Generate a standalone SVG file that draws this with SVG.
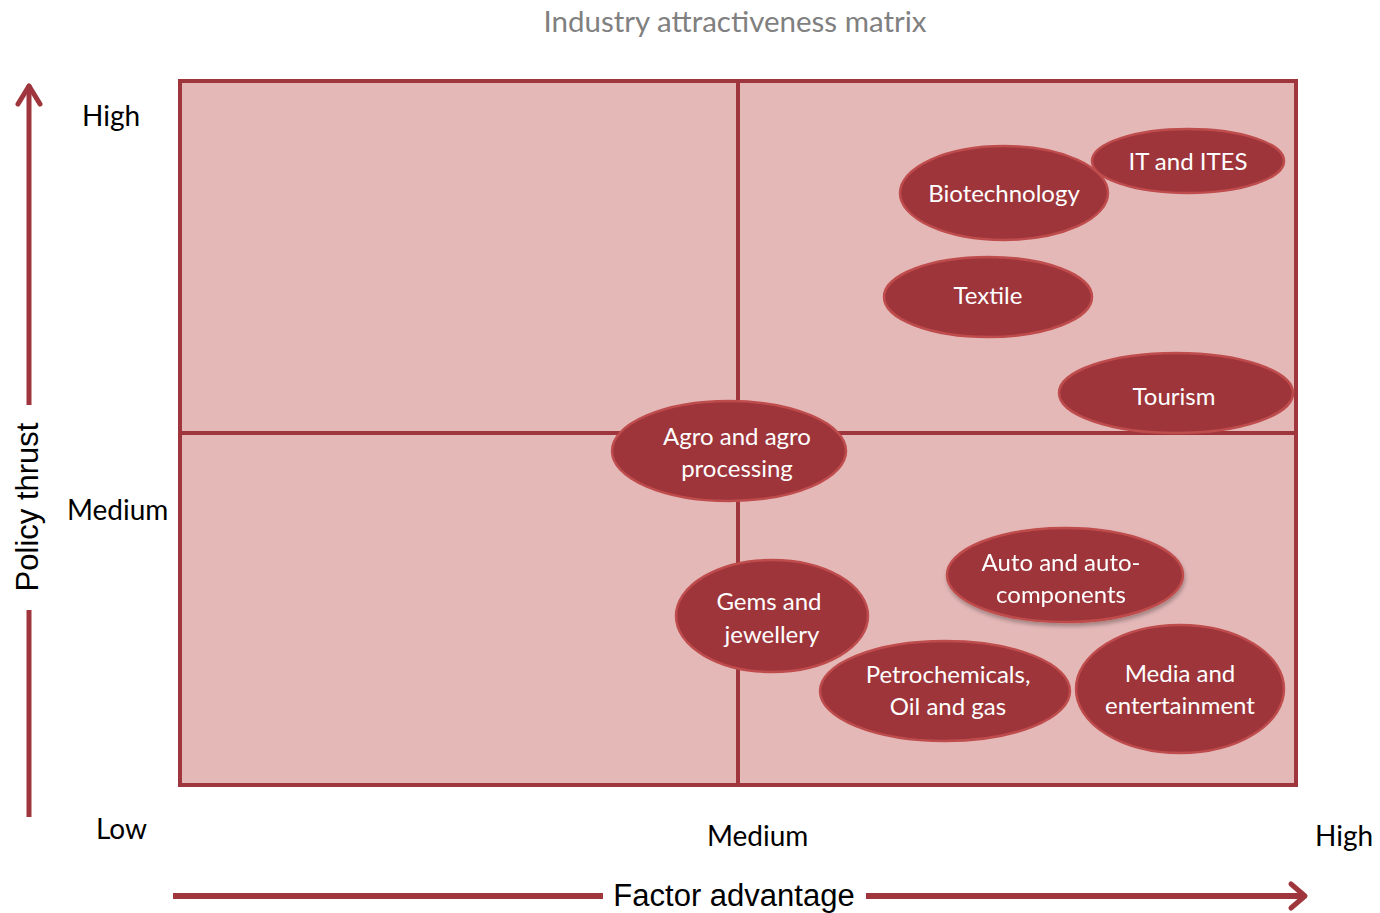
<svg xmlns="http://www.w3.org/2000/svg" width="1380" height="913" viewBox="0 0 1380 913">
<style>
.title{font-family:Lato,"Liberation Sans",sans-serif;font-size:29.5px;fill:#808080;text-anchor:middle}
.ax{font-family:Lato,"Liberation Sans",sans-serif;font-size:28px;fill:#000}
.axt{font-family:"Liberation Sans",Arial,sans-serif;font-size:31px;fill:#000;text-anchor:middle}
.el{fill:#9e353b;stroke:#bf4c4c;stroke-width:2.5}
.lb{font-family:Lato,"Liberation Sans",sans-serif;font-size:24px;fill:#fff;text-anchor:middle}
.ln{stroke:#a0363d;fill:none}
</style>
<defs>
<filter id="sh" x="-20%" y="-20%" width="140%" height="150%">
<feDropShadow dx="1" dy="3" stdDeviation="2" flood-color="#000" flood-opacity="0.3"/>
</filter>
</defs>
<text class="title" x="735" y="32">Industry attractiveness matrix</text>
<g id="matrix">
<rect x="180" y="81" width="1116" height="704" fill="#e5b8b8" stroke="#a0363d" stroke-width="4"/>
<line class="ln" x1="738" y1="81" x2="738" y2="785" stroke-width="4"/>
<line class="ln" x1="180" y1="433" x2="1296" y2="433" stroke-width="4"/>
</g>
<g id="axes">
<polyline class="ln" points="29,405 29,85" stroke-width="5"/>
<polyline class="ln" points="18,104 29,86 40,104" stroke-width="5" stroke-linecap="round" stroke-linejoin="round"/>
<line class="ln" x1="29" y1="610" x2="29" y2="817" stroke-width="5"/>
<line class="ln" x1="173" y1="896" x2="603" y2="896" stroke-width="6"/>
<line class="ln" x1="866" y1="896" x2="1304" y2="896" stroke-width="6"/>
<polyline class="ln" points="1291,884 1305,896 1291,908" stroke-width="5" stroke-linecap="round" stroke-linejoin="round"/>
<text class="axt" transform="translate(38,507) rotate(-90)">Policy thrust</text>
<text class="axt" x="734" y="906">Factor advantage</text>
<text class="ax" x="82" y="126">High</text>
<text class="ax" x="67" y="520">Medium</text>
<text class="ax" x="96" y="839">Low</text>
<text class="ax" x="707" y="846">Medium</text>
<text class="ax" x="1315" y="846">High</text>
</g>
<g id="n-biotech"><ellipse class="el" cx="1004" cy="193" rx="104" ry="47"/><text class="lb" x="1004" y="202">Biotechnology</text></g>
<g id="n-it"><ellipse class="el" cx="1188" cy="161" rx="96" ry="32"/><text class="lb" x="1188" y="170">IT and ITES</text></g>
<g id="n-textile"><ellipse class="el" cx="988" cy="297" rx="104" ry="40"/><text class="lb" x="988" y="304">Textile</text></g>
<g id="n-tourism"><ellipse class="el" cx="1176" cy="393" rx="117" ry="40"/><text class="lb" x="1174" y="405">Tourism</text></g>
<g id="n-agro"><ellipse class="el" cx="729" cy="451" rx="117" ry="50"/><text class="lb" x="737" y="445">Agro and agro</text><text class="lb" x="737" y="477">processing</text></g>
<g id="n-gems"><ellipse class="el" cx="772" cy="616" rx="96" ry="56"/><text class="lb" x="769" y="610">Gems and</text><text class="lb" x="772" y="643">jewellery</text></g>
<g id="n-auto" filter="url(#sh)"><ellipse class="el" cx="1065" cy="575" rx="118" ry="47"/><text class="lb" x="1061" y="571">Auto and auto-</text><text class="lb" x="1061" y="603">components</text></g>
<g id="n-petro"><ellipse class="el" cx="945" cy="691" rx="125" ry="50"/><text class="lb" x="948" y="683">Petrochemicals,</text><text class="lb" x="948" y="715">Oil and gas</text></g>
<g id="n-media"><ellipse class="el" cx="1180" cy="689" rx="104" ry="64"/><text class="lb" x="1180" y="682">Media and</text><text class="lb" x="1180" y="714">entertainment</text></g>
</svg>
